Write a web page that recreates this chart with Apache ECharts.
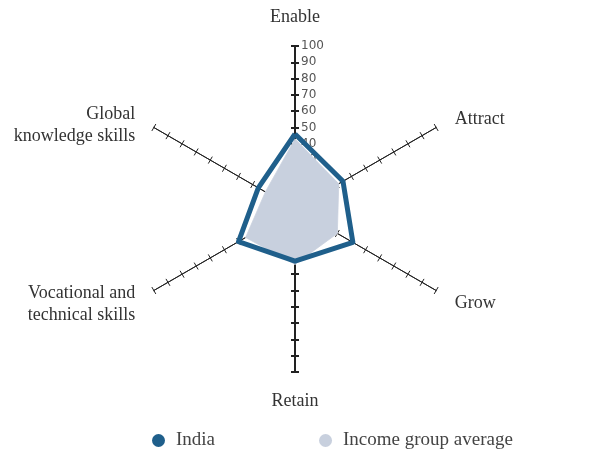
<!DOCTYPE html>
<html>
<head>
<meta charset="utf-8">
<script src="https://cdn.jsdelivr.net/npm/echarts@6/dist/echarts.min.js"></script>
<style>
  html, body { margin: 0; padding: 0; background: #fff; }
  #main { width: 601px; height: 453px; }
</style>
</head>
<body>
<div id="main"></div>
<script>
// pillars, in the order they go round the chart (clockwise from the top)
var pillars = ['Enable', 'Attract', 'Grow', 'Retain', 'Vocational and\ntechnical skills', 'Global\nknowledge skills'];
var indiaValues = [46, 34, 41, 32, 40, 26];
var groupValues = [43, 31, 30, 34, 35, 21];
var seriesNames = ['India', 'Income group average'];
var axisMax = 100;
var tickStep = 10;
// direction of each pillar's axis, degrees
var pillarAngles = [90, 30, -30, 270, 210, 150];
// small nudge down for the side labels (px)
var nameNudge = [0, 1, 4, 0, 5, 7];

var cx = 295, cy = 209, R = 163;
var serif = '"Liberation Serif", serif';

// radar lays indicators out counter-clockwise, so flip the order after the first
function ccw(arr) {
  return [arr[0]].concat(arr.slice(1).reverse());
}

var indicator = ccw(pillars).map(function (p) {
  return { name: p, min: 0, max: axisMax };
});

var rich = {};
pillars.forEach(function (p, i) {
  rich['e' + i] = { fontSize: 1, lineHeight: Math.max(nameNudge[i] * 2, 0.01) };
});

// each axis is a polar radius axis, drawn twice (ticks to each side) so the ticks cross the line
var polar = [], angleAxis = [], radiusAxis = [];
pillarAngles.forEach(function (a, i) {
  var vertical = (a === 90 || a === 270);
  [4, -4].forEach(function (len) {
    var idx = polar.length;
    polar.push({ center: [cx, cy], radius: R });
    angleAxis.push({ polarIndex: idx, startAngle: a, show: false, min: 0, max: 360 });
    radiusAxis.push({
      polarIndex: idx, min: 0, max: axisMax, interval: tickStep,
      axisLine: { show: true, lineStyle: { color: '#222', width: vertical ? 2 : 1 } },
      axisTick: { show: true, length: len, lineStyle: { color: '#222', width: vertical ? 2 : 1 } },
      axisLabel: {
        show: (i === 0 && len < 0),
        showMinLabel: false,
        margin: -6,
        align: 'left',
        color: '#555',
        fontSize: 12,
        fontFamily: '"DejaVu Sans", sans-serif'
      },
      splitLine: { show: false }
    });
  });
});

var chart = echarts.init(document.getElementById('main'));

var option = {
  animation: false,
  legend: {
    bottom: -2,
    left: 147,
    itemGap: 104,
    icon: 'circle',
    itemWidth: 13,
    itemHeight: 13,
    textStyle: { fontFamily: serif, fontSize: 19, color: '#444', padding: [0, 0, 0, 6] },
    data: seriesNames
  },
  radar: {
    center: [cx, cy],
    radius: R,
    startAngle: 90,
    splitNumber: axisMax / tickStep,
    shape: 'polygon',
    indicator: indicator,
    axisName: {
      color: '#333',
      fontFamily: serif,
      fontSize: 18,
      lineHeight: 22,
      padding: [0, 3, 0, 3],
      rich: rich,
      formatter: function (name) {
        var i = pillars.indexOf(name);
        if (!nameNudge[i]) return name;
        return '{e' + i + '| }\n' + name;
      }
    },
    nameGap: 18,
    splitLine: { show: false },
    splitArea: { show: false },
    axisLine: { show: false },
    axisTick: { show: false },
    axisLabel: { show: false }
  },
  polar: polar,
  angleAxis: angleAxis,
  radiusAxis: radiusAxis,
  series: [
    {
      type: 'radar',
      symbol: 'none',
      z: 3,
      data: [
        {
          name: seriesNames[1],
          value: ccw(groupValues),
          itemStyle: { color: '#c8d0de' },
          lineStyle: { color: '#d8dde7', width: 1 },
          areaStyle: { color: '#c8d0de', opacity: 1 }
        }
      ]
    },
    {
      type: 'radar',
      symbol: 'none',
      z: 4,
      data: [
        {
          name: seriesNames[0],
          value: ccw(indiaValues),
          itemStyle: { color: '#1f5f8b' },
          lineStyle: { color: '#1f5f8b', width: 5 }
        }
      ]
    }
  ]
};

chart.setOption(option);
</script>
</body>
</html>
